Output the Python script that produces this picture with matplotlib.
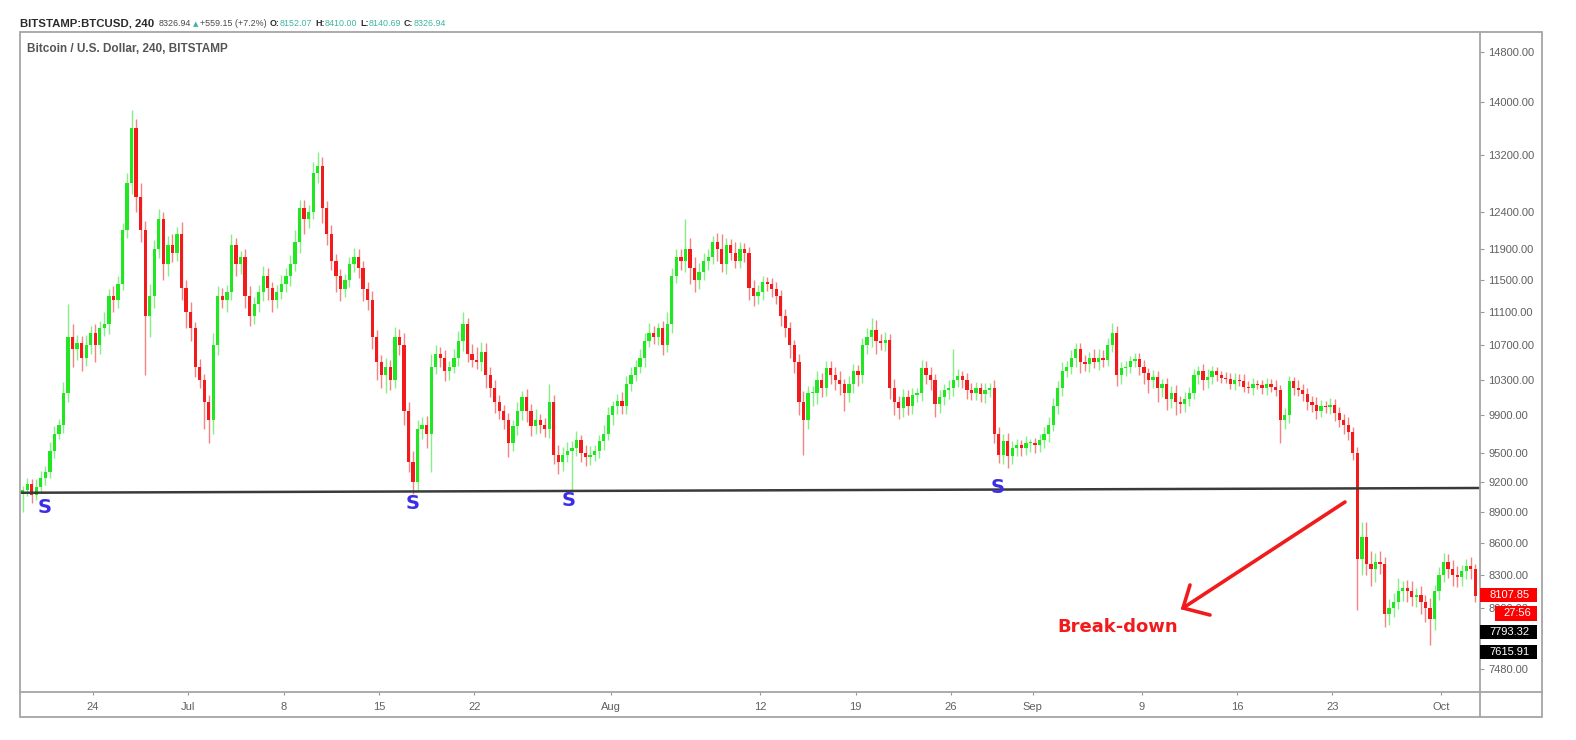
import matplotlib
matplotlib.use("Agg")
import matplotlib.pyplot as plt
import matplotlib.dates as mdates
from matplotlib import font_manager
from matplotlib.ticker import NullLocator, FixedLocator, FixedFormatter
from matplotlib.patches import Rectangle
from matplotlib.lines import Line2D
import numpy as np
import pandas as pd

plt.rcParams['font.family'] = ['Liberation Sans', 'DejaVu Sans']
_names = {f.name for f in font_manager.fontManager.ttflist}
NARROW = 'Liberation Sans Narrow' if 'Liberation Sans Narrow' in _names else None

# ---------------- data (BTC/USD, 8h bars) ----------------
start_time = "2019-06-18 16:00"
bar_hours = 8
first_open = 9080

closes = [
    9120,                   # Jun18
    9180, 9070, 9150,       # Jun19
    9240, 9300, 9520,       # Jun20
    9700, 9800, 10150,      # Jun21
    10800, 10650, 10720,    # Jun22
    10550, 10700, 10850,    # Jun23
    10700, 10900, 10950,    # Jun24
    11300, 11250, 11450,    # Jun25
    12150, 12800, 13600,    # Jun26
    12600, 12150, 11050,    # Jun27
    11300, 11900, 12300,    # Jun28
    11700, 11950, 11850,    # Jun29
    12100, 11400, 11100,    # Jun30
    10900, 10450, 10300,    # Jul1
    10050, 9850, 10700,     # Jul2
    11300, 11250, 11350,    # Jul3
    11950, 11700, 11800,    # Jul4
    11300, 11050, 11200,    # Jul5
    11350, 11550, 11400,    # Jul6
    11250, 11350, 11450,    # Jul7
    11550, 11700, 12000,    # Jul8
    12450, 12300, 12400,    # Jul9
    12950, 13050, 12450,    # Jul10
    12100, 11750, 11550,    # Jul11
    11380, 11500, 11700,    # Jul12
    11800, 11650, 11380,    # Jul13
    11250, 10800, 10500,    # Jul14
    10350, 10450, 10300,    # Jul15
    10800, 10700, 9950,     # Jul16
    9400, 9200, 9750,       # Jul17
    9800, 9700, 10450,      # Jul18
    10600, 10550, 10400,    # Jul19
    10450, 10550, 10750,    # Jul20
    10950, 10600, 10530,    # Jul21
    10500, 10620, 10350,    # Jul22
    10200, 10050, 9950,     # Jul23
    9850, 9600, 9780,       # Jul24
    9950, 10100, 9950,      # Jul25
    9780, 9850, 9800,       # Jul26
    9750, 10050, 9480,      # Jul27
    9400, 9480, 9520,       # Jul28
    9550, 9630, 9500,       # Jul29
    9450, 9480, 9520,       # Jul30
    9620, 9700, 9900,       # Jul31
    10000, 10060, 10000,    # Aug1
    10250, 10350, 10450,    # Aug2
    10550, 10750, 10850,    # Aug3
    10800, 10900, 10700,    # Aug4
    10950, 11550, 11800,    # Aug5
    11750, 11900, 11650,    # Aug6
    11500, 11600, 11750,    # Aug7
    11800, 12000, 11900,    # Aug8
    11700, 11950, 11850,    # Aug9
    11750, 11900, 11850,    # Aug10
    11400, 11300, 11350,    # Aug11
    11480, 11450,           # Aug12
    11380, 11300, 11050,
    10900, 10700, 10500,
    10050, 9850, 10150,
    10150, 10300, 10200,
    10430, 10350, 10300,
    10250, 10150, 10250,
    10400, 10350, 10700,
    10800, 10880, 10750,
    10730, 10760, 10200,
    10050, 9980, 10100,
    10000, 10130, 10150,
    10430, 10350, 10300,
    10030, 10100, 10180,
    10200, 10300, 10340,
    10300, 10180, 10150,
    10200, 10140, 10180,
    10200, 9700, 9480,
    9620, 9460, 9550,
    9580, 9550, 9600,
    9600, 9580, 9630,
    9700, 9800, 10000,
    10200, 10400, 10450,
    10550, 10650, 10500,
    10480, 10550, 10500,
    10550, 10530, 10700,
    10850, 10350, 10430,
    10450, 10520, 10540,
    10450, 10370, 10300,
    10330, 10200, 10250,
    10080, 10150, 10050,
    10030, 10080, 10150,
    10350, 10400, 10300,
    10330, 10400, 10350,
    10320, 10310,
    10250, 10300, 10280,
    10220, 10200, 10250,
    10240, 10200, 10250,
    10220, 10180, 9850,
    9900, 10280, 10200,
    10180, 10140, 10050,
    10020, 9950, 10000,
    9990, 10020, 9930,
    9850, 9800, 9720,
    9500, 8450, 8650,
    8400, 8350, 8420,
    8400, 7950, 8000,
    8050, 8150, 8180,
    8150, 8100, 8120,
    8050, 8000, 7900,
    8150, 8300, 8420,
    8350, 8300, 8280,
    8330, 8380, 8350, 8110,
]

wick_up = [
    40,
    60, 50, 80,
    70, 60, 90,
    80, 60, 120,
    400, 150, 100,
    90, 120, 80,
    100, 90, 150,
    80, 120, 100,
    100, 150, 280,
    150, 200, 120,
    150, 120, 140,
    100, 120, 150,
    90, 160, 100,
    120, 80, 90,
    60, 80, 150,
    120, 100, 90,
    150, 100, 80,
    100, 120, 90,
    90, 130, 100,
    80, 90, 110,
    100, 120, 150,
    120, 110, 90,
    150, 200, 120,
    100, 120, 90,
    90, 80, 100,
    120, 100, 90,
    100, 110, 80,
    90, 100, 80,
    120, 90, 150,
    100, 120, 100,
    80, 90, 150,
    100, 80, 90,
    70, 100, 120,
    150, 80, 110,
    150, 120, 100,
    100, 90, 80,
    60, 80, 70,
    100, 70, 90,
    80, 120, 60,
    70, 200, 80,
    100, 80, 90,
    70, 100, 60,
    80, 90, 60,
    70, 100, 90,
    60, 80, 100,
    90, 100, 80,
    100, 90, 120,
    80, 60, 90,
    150, 100, 100,
    100, 400, 150,
    150, 120, 100,
    100, 80, 120,
    200, 100, 90,
    150, 100, 80,
    80, 100, 90,
    70, 60,
    80, 100, 70,
    90, 80, 60,
    100, 120, 80,
    80, 100, 70,
    90, 80, 100,
    100, 60, 90,
    80, 70, 90,
    100, 150, 120,
    80, 100, 70,
    110, 60, 90,
    80, 70, 60,
    100, 80, 90,
    60, 80, 70,
    100, 350, 80,
    60, 70, 80,
    70, 60, 80,
    60, 90, 70,
    80, 90, 70,
    60, 50, 80,
    50, 60, 70,
    70, 80, 90,
    80, 100, 70,
    90, 80, 70,
    80, 70, 100,
    100, 90, 80,
    120, 80, 70,
    60, 50, 70,
    70, 80, 60,
    80, 70, 60,
    70, 80, 90,
    60, 80, 70,
    70, 60, 80,
    90, 60, 50,
    50, 70,
    60, 70, 60,
    80, 60, 70,
    50, 60, 70,
    60, 70, 60,
    80, 60, 50,
    90, 70, 70,
    60, 80, 70,
    60, 70, 60,
    60, 70, 80,
    50, 60, 150,
    150, 120, 80,
    100, 60, 80,
    80, 120, 60,
    70, 90, 60,
    80, 70, 90,
    60, 70, 80,
    70, 90, 80,
    60, 70, 80, 50,
]

wick_dn = [
    180,
    60, 80, 50,
    50, 70, 60,
    80, 60, 90,
    100, 200, 120,
    150, 90, 100,
    200, 100, 90,
    120, 150, 100,
    80, 100, 150,
    200, 150, 700,
    250, 150, 120,
    200, 150, 120,
    100, 150, 200,
    150, 120, 100,
    300, 250, 150,
    120, 100, 150,
    100, 150, 120,
    150, 120, 100,
    100, 120, 150,
    150, 100, 90,
    100, 120, 80,
    150, 200, 120,
    100, 150, 200,
    150, 120, 200,
    150, 100, 90,
    100, 120, 150,
    120, 150, 200,
    150, 200, 120,
    100, 120, 150,
    100, 120, 80,
    100, 150, 400,
    90, 100, 120,
    100, 80, 90,
    120, 100, 90,
    80, 100, 150,
    100, 120, 90,
    100, 150, 80,
    90, 100, 120,
    100, 80, 90,
    80, 90, 100,
    120, 90, 80,
    420, 80, 100,
    90, 80, 70,
    80, 90, 70,
    100, 80, 90,
    90, 80, 70,
    80, 100, 70,
    90, 100, 120,
    80, 100, 90,
    120, 150, 200,
    150, 120, 100,
    120, 100, 150,
    100, 120, 90,
    100, 90, 120,
    150, 120, 100,
    100, 90,
    90, 100, 120,
    100, 150, 120,
    150, 370, 100,
    150, 120, 100,
    90, 100, 120,
    120, 200, 100,
    100, 120, 90,
    100, 120, 150,
    90, 100, 120,
    150, 120, 100,
    100, 90, 80,
    90, 100, 120,
    150, 100, 90,
    100, 90, 80,
    90, 100, 80,
    80, 90, 100,
    80, 100, 90,
    100, 120, 80,
    80, 90, 70,
    90, 80, 70,
    80, 90, 70,
    90, 80, 70,
    90, 100, 120,
    80, 90, 70,
    90, 80, 70,
    80, 120, 100,
    90, 80, 70,
    100, 120, 150,
    90, 150, 100,
    120, 100, 150,
    100, 90, 80,
    70, 100, 120,
    90, 80, 70,
    60, 50,
    60, 70, 50,
    60, 50, 70,
    50, 60, 70,
    60, 70, 250,
    100, 80, 70,
    70, 80, 90,
    80, 90, 70,
    60, 80, 90,
    80, 100, 90,
    80, 470, 150,
    100, 150, 120,
    90, 120, 100,
    80, 60, 90,
    100, 80, 90,
    100, 120, 220,
    90, 80, 70,
    80, 100, 90,
    80, 70, 90, 60,
]

y_ticks = [14800, 14000, 13200, 12400, 11900, 11500, 11100, 10700,
           10300, 9900, 9500, 9200, 8900, 8600, 8300, 8000, 7480]
x_tick_dates = ["2019-06-24", "2019-07-01", "2019-07-08", "2019-07-15",
                "2019-07-22", "2019-08-01", "2019-08-12", "2019-08-19",
                "2019-08-26", "2019-09-01", "2019-09-09", "2019-09-16",
                "2019-09-23", "2019-10-01"]
x_tick_labels = ["24", "Jul", "8", "15", "22", "Aug", "12", "19", "26",
                 "Sep", "9", "16", "23", "Oct"]

support_dates = ["2019-06-18 15:22", "2019-10-03 20:10"]
support_prices = [9088, 9136]

s_dates = ["2019-06-20 10:00", "2019-07-17 12:00", "2019-07-28 23:00", "2019-08-29 11:00"]
s_prices = [8937, 8977, 9007, 9136]

price_tags = [("8107.85", "red"), ("27:56", "red"), ("7793.32", "black"), ("7615.91", "black")]

# ---------------- figure ----------------
W, H = 1576, 740
fig = plt.figure(figsize=(W / 100, H / 100), dpi=100)
fig.patch.set_facecolor("white")


def fx(px):
    return px / W


def fy(py):
    return 1 - py / H


L, R, T, B = 20, 1480, 32, 692
ax = fig.add_axes([fx(L), fy(B), fx(R) - fx(L), fy(T) - fy(B)])
ax.set_facecolor("white")
ax.set_yscale("log")

n = min(len(closes), len(wick_up), len(wick_dn))
c = np.array(closes[:n], dtype=float)
o = np.r_[first_open, c[:-1]]
wu = np.array(wick_up[:n], dtype=float)
wd = np.array(wick_dn[:n], dtype=float)
hi = np.maximum(o, c) + wu
lo = np.minimum(o, c) - wd

times = pd.date_range(start_time, periods=n, freq=f"{bar_hours}h")
x = mdates.date2num(times.to_pydatetime()) + bar_hours / 48.0
up = c >= o
green, red = "#22e622", "#f21b1b"
cols = np.where(up, green, red)

ax.vlines(x, lo, hi, colors=list(cols), linewidth=1.0, alpha=0.55, zorder=2)
bottoms = np.minimum(o, c)
heights = np.maximum(np.abs(c - o), 10)
ax.bar(x, heights, bottom=bottoms, width=0.24, color=list(cols), linewidth=0, zorder=3)

# support line
sx = mdates.date2num(pd.to_datetime(support_dates).to_pydatetime())
ax.plot(sx, support_prices, color="#3a3a3a", lw=1.8, zorder=4, solid_capstyle="butt")

# S labels
for d, p in zip(s_dates, s_prices):
    ax.text(mdates.date2num(pd.Timestamp(d).to_pydatetime()), p, "S", color="#3c2ee6",
            fontsize=14, fontweight="bold", ha="center", va="center", zorder=5,
            family=["DejaVu Sans"])

ax.set_xlim(sx[0], sx[1])
ax.set_ylim(7290, 15131)

ax.yaxis.tick_right()
ax.yaxis.set_major_locator(FixedLocator(y_ticks))
ax.yaxis.set_major_formatter(FixedFormatter([f"{v:.2f}" for v in y_ticks]))
ax.yaxis.set_minor_locator(NullLocator())
xt = mdates.date2num(pd.to_datetime(x_tick_dates).to_pydatetime())
ax.xaxis.set_major_locator(FixedLocator(xt))
ax.xaxis.set_major_formatter(FixedFormatter(x_tick_labels))
ax.xaxis.set_minor_locator(NullLocator())
ax.tick_params(axis="y", length=3, width=0.8, color="#999999", pad=3,
               labelsize=8, labelcolor="#606060")
ax.tick_params(axis="x", length=2, width=0.8, color="#999999", pad=5,
               labelsize=8, labelcolor="#606060")
for s in ax.spines.values():
    s.set_visible(False)

# frame lines
fc = "#a5a5a5"
fig.add_artist(Rectangle((fx(20), fy(717)), fx(1542) - fx(20), fy(32) - fy(717),
                         transform=fig.transFigure, fill=False, edgecolor=fc, lw=1.3, zorder=4))
fig.add_artist(Line2D([fx(R), fx(R)], [fy(32), fy(717)], transform=fig.transFigure,
                      color=fc, lw=1.3, zorder=4))
fig.add_artist(Line2D([fx(20), fx(1542)], [fy(B), fy(B)], transform=fig.transFigure,
                      color=fc, lw=1.3, zorder=4))

# price tags on the right scale (they cover the 8000.00 label, as in the original)
tag_boxes = [(1480, 588, 1537, 602), (1495, 606, 1537, 621),
             (1480, 625, 1537, 639), (1480, 645, 1537, 659)]
for (txt, col), (x0, y0, x1, y1) in zip(price_tags, tag_boxes):
    bg = "#ff0000" if col == "red" else "#000000"
    fig.add_artist(Rectangle((fx(x0), fy(y1)), fx(x1) - fx(x0), fy(y0) - fy(y1),
                             transform=fig.transFigure, facecolor=bg, edgecolor="none", zorder=5))
    fig.text(fx((x0 + x1) / 2 + 1), fy((y0 + y1) / 2), txt, color="white", fontsize=8,
             ha="center", va="center", zorder=6)

# header line
renderer = fig.canvas.get_renderer()
teal = "#3db5a3"
dark = "#2b2b2b"
hdr_family = [NARROW, "DejaVu Sans"] if NARROW else ["Liberation Sans", "DejaVu Sans"]
big = 10 if NARROW else 8.2
small = 7.6 if NARROW else 6.4
pieces = [("BITSTAMP:BTCUSD, 240", dark, "bold", 4, big),
          ("8326.94", "#4a4a4a", "normal", 2, small),
          ("\u25B2", teal, "normal", 2, small * 0.8),
          ("+559.15 (+7.2%)", "#4a4a4a", "normal", 3, small),
          ("O:", dark, "bold", 0, small), ("8152.07", teal, "normal", 3, small),
          ("H:", dark, "bold", 0, small), ("8410.00", teal, "normal", 3, small),
          ("L:", dark, "bold", 0, small), ("8140.69", teal, "normal", 3, small),
          ("C:", dark, "bold", 0, small), ("8326.94", teal, "normal", 3, small)]
xpos = 20
for txt, col, wt, gap, fs in pieces:
    fam = ["DejaVu Sans"] if txt == "\u25B2" else hdr_family
    t = fig.text(fx(xpos), fy(24), txt, color=col, fontsize=fs, fontweight=wt,
                 ha="left", va="center", family=fam)
    bb = t.get_window_extent(renderer)
    xpos = bb.x1 + gap

fig.text(fx(27), fy(49), "Bitcoin / U.S. Dollar, 240, BITSTAMP", color="#555555",
         fontsize=8.5, fontweight="bold", ha="left", va="center",
         family=hdr_family)

# break-down annotation
arrow_col = "#f21b1b"
tip = (1183, 608)
fig.add_artist(Line2D([fx(1345), fx(tip[0])], [fy(502), fy(tip[1])], transform=fig.transFigure,
                      color=arrow_col, lw=2.6, zorder=6, solid_capstyle="round"))
fig.add_artist(Line2D([fx(1190), fx(tip[0]), fx(1210)], [fy(585), fy(tip[1]), fy(615)],
                      transform=fig.transFigure, color=arrow_col, lw=2.6, zorder=6,
                      solid_capstyle="round", solid_joinstyle="miter"))
fig.text(fx(1118), fy(627), "Break-down", color=arrow_col, fontsize=13, fontweight="bold",
         ha="center", va="center", family=["DejaVu Sans"])

fig.savefig("out.png", dpi=100)
